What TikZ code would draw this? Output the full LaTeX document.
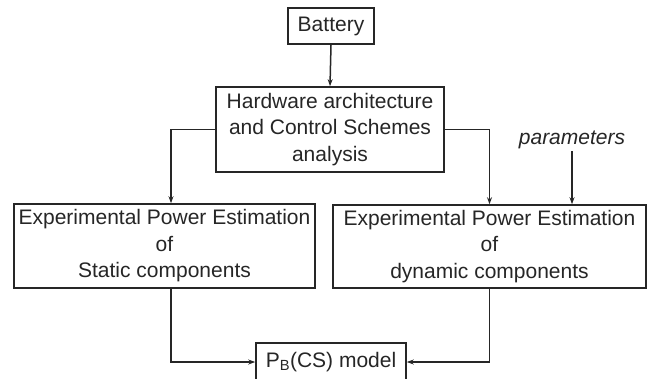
\documentclass[tikz,border=0pt]{standalone}
\usepackage{fontspec}
\setmainfont{Liberation Sans}
\usetikzlibrary{arrows.meta}
\definecolor{ink}{HTML}{262626}
\begin{document}
\begin{tikzpicture}[x=1pt,y=-1pt,
  box/.style={draw=ink,line width=1.6pt,text=ink,inner sep=0pt,align=center,
    font=\fontsize{21}{26.5}\selectfont},
  conn/.style={draw=ink,line width=1.5pt,-{Stealth[length=7pt,width=5pt]}}]
\useasboundingbox (0,0) rectangle (647,378);
\fill[white] (0,0) rectangle (647,378);
\node[box,minimum width=86pt,minimum height=36pt] (bat) at (331,26) {Battery};
\node[box,minimum width=228pt,minimum height=85pt] (hw) at (330,129.5)
  {Hardware architecture\\and Control Schemes\\analysis};
\node[box,minimum width=301pt,minimum height=84pt] (st) at (164.5,246)
  {Experimental Power Estimation\\of\\Static components};
\node[box,minimum width=313pt,minimum height=83pt] (dy) at (489.5,246.5)
  {Experimental Power Estimation\\of\\dynamic components};
\node[box,minimum width=150pt,minimum height=38pt] (pb) at (331,362)
  {P\textsubscript{B}(CS) model};
\node[text=ink,font=\fontsize{21}{24}\selectfont\itshape,inner sep=2pt] (par) at (572,140) {parameters};
\draw[conn] (bat.south) -- (hw.north);
\draw[conn] (hw.west) -| ([xshift=6.5pt]st.north);
\draw[conn] (hw.east) -| (dy.north);
\draw[conn] (par.south) -- (par.south |- dy.north);
\draw[conn] ([xshift=6.5pt]st.south) |- (pb.west);
\draw[conn] (dy.south) |- (pb.east);
\end{tikzpicture}
\end{document}
